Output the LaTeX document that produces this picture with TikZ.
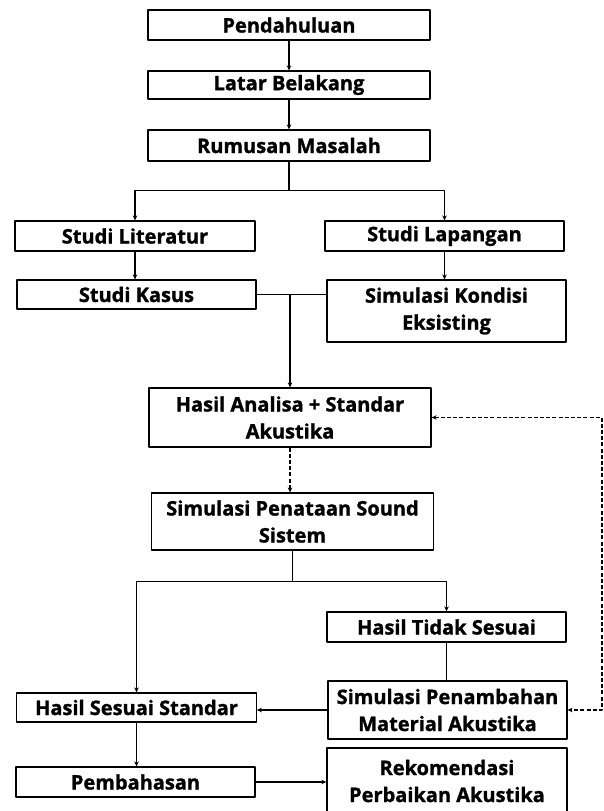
\documentclass[tikz,border=0pt]{standalone}
\usepackage{fontspec}
\setmainfont{Open Sans}[BoldFeatures={FakeBold=1.2}]
\usetikzlibrary{arrows.meta}
\tikzset{
  every picture/.style={line join=round, >={Stealth[length=5pt,width=4.5pt]}},
  box/.style={draw, line width=1.2pt, align=center, inner sep=0pt,
    font=\fontsize{20}{27}\selectfont\bfseries},
  link/.style={line width=1.1pt},
  back/.style={line width=1.1pt, dash pattern=on 4pt off 2.2pt},
}

\begin{document}
\begin{tikzpicture}[x=1pt,y=-1pt]
\useasboundingbox[fill=white] (0,0) rectangle (603,811);
% upper part
\node[box,minimum width=282pt,minimum height=30pt] (pend) at (289,25) {Pendahuluan};
\node[box,minimum width=282pt,minimum height=28pt] (latar) at (289,85) {Latar Belakang};
\node[box,minimum width=282pt,minimum height=31pt] (rumus) at (289,145.5) {Rumusan Masalah};
\node[box,minimum width=240pt,minimum height=30pt] (lit) at (135,236) {Studi Literatur};
\node[box,minimum width=239pt,minimum height=30pt] (lap) at (444.5,236) {Studi Lapangan};
\node[box,minimum width=239pt,minimum height=29pt] (kasus) at (136.5,294.5) {Studi Kasus};
\node[box,minimum width=239pt,minimum height=62pt] (kondisi) at (446.5,311) {Simulasi Kondisi\\Eksisting};
\node[box,minimum width=282pt,minimum height=59pt] (analisa) at (290,417.5) {Hasil Analisa + Standar\\Akustika};
\node[box,minimum width=282pt,minimum height=57pt] (penataan) at (292.5,521.5) {Simulasi Penataan Sound\\Sistem};
% lower part
\node[box,minimum width=239pt,minimum height=30pt] (tidak) at (446.5,627) {Hasil Tidak Sesuai};
\node[box,minimum width=239pt,minimum height=58pt] (tambah) at (447.5,710) {Simulasi Penambahan\\Material Akustika};
\node[box,minimum width=239.5pt,minimum height=29pt] (sesuai) at (136.5,707.5) {Hasil Sesuai Standar};
\node[box,minimum width=239pt,minimum height=30pt] (bahas) at (135.5,782) {Pembahasan};
\node[box,minimum width=240pt,minimum height=66pt] (rekom) at (447,781) {Rekomendasi\\Perbaikan Akustika};
\coordinate (rail) at (602,0);

\draw[link,->] (pend) -- (latar);
\draw[link,->] (latar) -- (rumus);
\draw[link,->] (rumus.south) -- ++(0,29) -| (lit.north);
\draw[link,->] (rumus.south) -- ++(0,29) -| (lap.north);
\draw[link,->] (lit.south) -- (lit.south |- kasus.north);
\draw[link,->] (lap.south) -- (lap.south |- kondisi.north);
\draw[link] (kasus.east) -- (kasus.east -| kondisi.west);
\draw[link,->] (kasus.east -| analisa.north) -- (analisa.north);
\draw[back,->] (analisa.south) -- (analisa.south |- penataan.north);
\draw[link,->] (penataan.south) -- ++(0,31) -| (sesuai.north);
\draw[link,->] (penataan.south) -- ++(0,31) -| (tidak.north);
\draw[link] (tidak.south) -- (tidak.south |- tambah.north);
\draw[link,->] (tambah.west) -- (tambah.west -| sesuai.east);
\draw[link,->] (sesuai.south) -- (sesuai.south |- bahas.north);
\draw[link,->] (bahas.east) -- (bahas.east -| rekom.west);
\draw[back,<->] (analisa.east) -- (analisa.east -| rail) -- (tambah.east -| rail) -- (tambah.east);
\end{tikzpicture}
\end{document}
